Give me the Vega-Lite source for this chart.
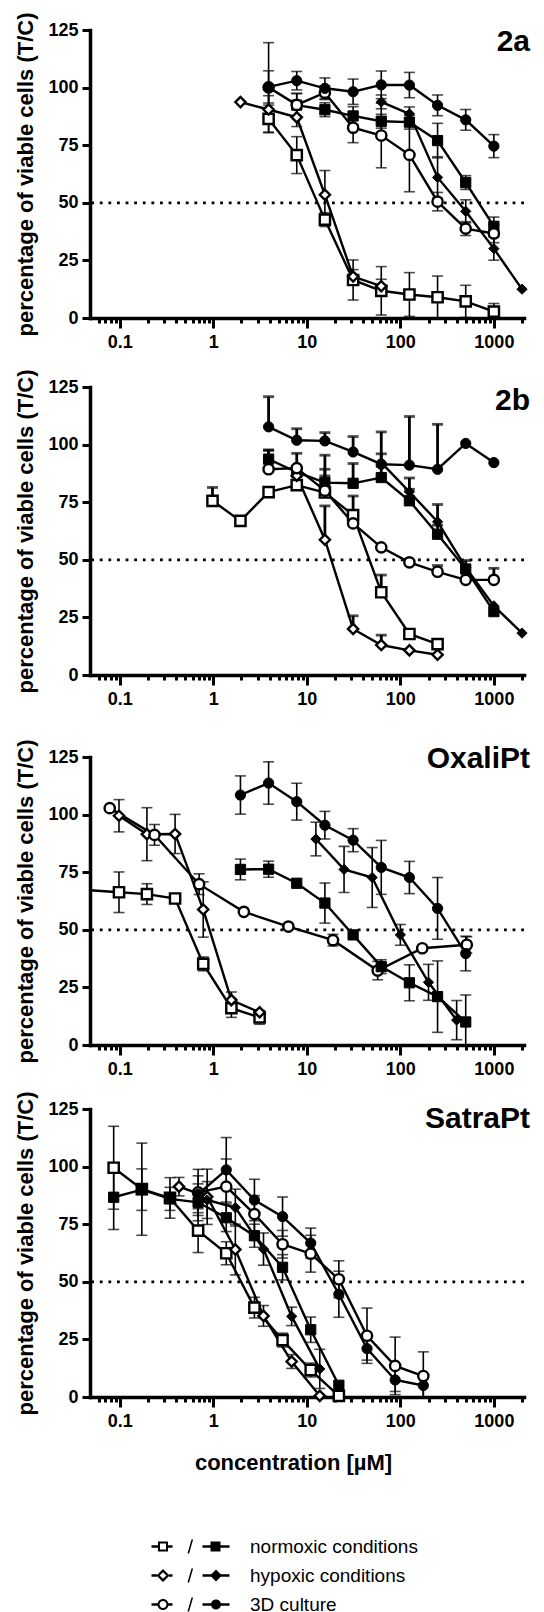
{
"$schema": "https://vega.github.io/schema/vega-lite/v6.json",
"padding": {"left": 14, "top": 12, "right": 0, "bottom": 0},
"config": {
  "font": "Liberation Sans",
  "view": {"stroke": null},
  "axis": {"domainColor": "black", "domainWidth": 3.5, "domainCap": "square", "tickColor": "black", "tickWidth": 3, "labelColor": "black", "labelFont": "Liberation Sans", "labelFontWeight": "bold", "labelFontSize": 18, "titleColor": "black", "titleFont": "Liberation Sans", "titleFontWeight": "bold", "titleFontSize": 22, "grid": false},
  "title": {"font": "Liberation Sans", "fontWeight": "bold", "fontSize": 30, "color": "black", "anchor": "end", "frame": "group", "offset": -35, "baseline": "alphabetic", "dx": 6}
},
"datasets": {
"a": [
{"k":"N","f":"o","c":3.9,"v":86.4,"lo":80.4,"hi":92.4},
{"k":"N","f":"o","c":7.8,"v":70.7,"lo":62.7,"hi":78.7},
{"k":"N","f":"o","c":15.6,"v":42.7,"lo":39.7,"hi":45.7},
{"k":"N","f":"o","c":31.25,"v":16.5,"lo":7.8,"hi":25.2},
{"k":"N","f":"o","c":62.5,"v":11.8,"lo":1.3,"hi":22.3},
{"k":"N","f":"o","c":125,"v":10.2,"lo":0.7,"hi":19.7},
{"k":"N","f":"o","c":250,"v":9,"lo":0,"hi":18.2},
{"k":"N","f":"o","c":500,"v":7.2,"lo":0.2,"hi":14.2},
{"k":"N","f":"o","c":1000,"v":2.8,"lo":0,"hi":6.3},
{"k":"N","f":"f","c":7.8,"v":92.4,"lo":87.4,"hi":97.4},
{"k":"N","f":"f","c":15.6,"v":90.4,"lo":87.4,"hi":93.4},
{"k":"N","f":"f","c":31.25,"v":87.7,"lo":83.7,"hi":91.7},
{"k":"N","f":"f","c":62.5,"v":85.4,"lo":82.4,"hi":88.4},
{"k":"N","f":"f","c":125,"v":85,"lo":82,"hi":88},
{"k":"N","f":"f","c":250,"v":77,"lo":69.5,"hi":84.5},
{"k":"N","f":"f","c":500,"v":58.8,"lo":55.8,"hi":61.8},
{"k":"N","f":"f","c":1000,"v":39.8,"lo":35.8,"hi":43.8},
{"k":"H","f":"o","c":1.95,"v":93.7,"lo":93.7,"hi":93.7},
{"k":"H","f":"o","c":3.9,"v":90.5,"lo":84.5,"hi":96.5},
{"k":"H","f":"o","c":7.8,"v":87.1,"lo":83.1,"hi":91.1},
{"k":"H","f":"o","c":15.6,"v":53.5,"lo":43,"hi":64},
{"k":"H","f":"o","c":31.25,"v":18,"lo":15,"hi":21},
{"k":"H","f":"o","c":62.5,"v":13.8,"lo":10.8,"hi":16.8},
{"k":"H","f":"f","c":62.5,"v":93.8,"lo":90.8,"hi":96.8},
{"k":"H","f":"f","c":125,"v":88.6,"lo":85.6,"hi":91.6},
{"k":"H","f":"f","c":250,"v":61,"lo":52,"hi":70},
{"k":"H","f":"f","c":500,"v":46.3,"lo":41.3,"hi":51.3},
{"k":"H","f":"f","c":1000,"v":30.1,"lo":25.1,"hi":35.1},
{"k":"H","f":"f","c":2000,"v":12.5,"lo":12.5,"hi":12.5},
{"k":"D","f":"o","c":3.9,"v":100.1,"lo":80.7,"hi":119.5},
{"k":"D","f":"o","c":7.8,"v":92.5,"lo":87.5,"hi":97.5},
{"k":"D","f":"o","c":15.6,"v":97.8,"lo":94.8,"hi":100.8},
{"k":"D","f":"o","c":31.25,"v":82.6,"lo":76.1,"hi":89.1},
{"k":"D","f":"o","c":62.5,"v":79.2,"lo":65.2,"hi":93.2},
{"k":"D","f":"o","c":125,"v":70.8,"lo":54.8,"hi":86.8},
{"k":"D","f":"o","c":250,"v":50.5,"lo":46.5,"hi":54.5},
{"k":"D","f":"o","c":500,"v":38.8,"lo":35.8,"hi":41.8},
{"k":"D","f":"o","c":1000,"v":36.7,"lo":32.7,"hi":40.7},
{"k":"D","f":"f","c":3.9,"v":100.3,"lo":93.3,"hi":107.3},
{"k":"D","f":"f","c":7.8,"v":103,"lo":99,"hi":107},
{"k":"D","f":"f","c":15.6,"v":99.7,"lo":95.2,"hi":104.2},
{"k":"D","f":"f","c":31.25,"v":98.2,"lo":92.7,"hi":103.7},
{"k":"D","f":"f","c":62.5,"v":101.2,"lo":95.2,"hi":107.2},
{"k":"D","f":"f","c":125,"v":101.1,"lo":95.6,"hi":106.6},
{"k":"D","f":"f","c":250,"v":92.3,"lo":87.8,"hi":96.8},
{"k":"D","f":"f","c":500,"v":86,"lo":81.5,"hi":90.5},
{"k":"D","f":"f","c":1000,"v":74.6,"lo":69.6,"hi":79.6}
],
"b": [
{"k":"N","f":"o","c":0.98,"v":75.6,"lo":75.6,"hi":81.4},
{"k":"N","f":"o","c":1.95,"v":66.9,"lo":66.9,"hi":66.9},
{"k":"N","f":"o","c":3.9,"v":79.4,"lo":79.4,"hi":79.4},
{"k":"N","f":"o","c":7.8,"v":82.4,"lo":82.4,"hi":82.4},
{"k":"N","f":"o","c":15.6,"v":79.2,"lo":79.2,"hi":86.4},
{"k":"N","f":"o","c":31.25,"v":69.4,"lo":69.4,"hi":77.7},
{"k":"N","f":"o","c":62.5,"v":35.9,"lo":35.9,"hi":43.4},
{"k":"N","f":"o","c":125,"v":17.8,"lo":17.8,"hi":17.8},
{"k":"N","f":"o","c":250,"v":13.4,"lo":13.4,"hi":13.4},
{"k":"N","f":"f","c":3.9,"v":93.7,"lo":93.7,"hi":97.7},
{"k":"N","f":"f","c":7.8,"v":88,"lo":88,"hi":96.2},
{"k":"N","f":"f","c":15.6,"v":83.5,"lo":83.5,"hi":95.4},
{"k":"N","f":"f","c":31.25,"v":83.2,"lo":83.2,"hi":91.8},
{"k":"N","f":"f","c":62.5,"v":85.7,"lo":85.7,"hi":90.5},
{"k":"N","f":"f","c":125,"v":75.6,"lo":75.6,"hi":80.6},
{"k":"N","f":"f","c":250,"v":61.1,"lo":61.1,"hi":65},
{"k":"N","f":"f","c":500,"v":46,"lo":46,"hi":46},
{"k":"N","f":"f","c":1000,"v":27.5,"lo":27.5,"hi":27.5},
{"k":"H","f":"o","c":7.8,"v":86.5,"lo":86.5,"hi":86.5},
{"k":"H","f":"o","c":15.6,"v":58.7,"lo":58.7,"hi":73.4},
{"k":"H","f":"o","c":31.25,"v":20,"lo":20,"hi":25.7},
{"k":"H","f":"o","c":62.5,"v":13,"lo":13,"hi":17.3},
{"k":"H","f":"o","c":125,"v":10.7,"lo":10.7,"hi":10.7},
{"k":"H","f":"o","c":250,"v":8.8,"lo":8.8,"hi":8.8},
{"k":"H","f":"f","c":62.5,"v":92.2,"lo":92.2,"hi":96},
{"k":"H","f":"f","c":125,"v":79.5,"lo":79.5,"hi":85.5},
{"k":"H","f":"f","c":250,"v":66.5,"lo":66.5,"hi":74},
{"k":"H","f":"f","c":500,"v":46.7,"lo":46.7,"hi":49.7},
{"k":"H","f":"f","c":1000,"v":30,"lo":30,"hi":30},
{"k":"H","f":"f","c":2000,"v":18.2,"lo":18.2,"hi":18.2},
{"k":"D","f":"o","c":3.9,"v":89.3,"lo":89.3,"hi":97.5},
{"k":"D","f":"o","c":7.8,"v":89.8,"lo":89.8,"hi":89.8},
{"k":"D","f":"o","c":15.6,"v":80,"lo":80,"hi":89.3},
{"k":"D","f":"o","c":31.25,"v":65.8,"lo":65.8,"hi":65.8},
{"k":"D","f":"o","c":62.5,"v":55.4,"lo":55.4,"hi":55.4},
{"k":"D","f":"o","c":125,"v":48.9,"lo":48.9,"hi":48.9},
{"k":"D","f":"o","c":250,"v":44.8,"lo":44.8,"hi":47.5},
{"k":"D","f":"o","c":500,"v":41.3,"lo":41.3,"hi":41.3},
{"k":"D","f":"o","c":1000,"v":41.3,"lo":41.3,"hi":46.3},
{"k":"D","f":"f","c":3.9,"v":107.7,"lo":107.7,"hi":120.8},
{"k":"D","f":"f","c":7.8,"v":101.9,"lo":101.9,"hi":106.9},
{"k":"D","f":"f","c":15.6,"v":101.6,"lo":101.6,"hi":105.2},
{"k":"D","f":"f","c":31.25,"v":96.8,"lo":96.8,"hi":103.5},
{"k":"D","f":"f","c":62.5,"v":91.5,"lo":91.5,"hi":105.5},
{"k":"D","f":"f","c":125,"v":91.1,"lo":91.1,"hi":112.2},
{"k":"D","f":"f","c":250,"v":89.3,"lo":89.3,"hi":108.8},
{"k":"D","f":"f","c":500,"v":100.5,"lo":100.5,"hi":100.5},
{"k":"D","f":"f","c":1000,"v":92.2,"lo":92.2,"hi":92.2}
],
"ox": [
{"k":"N","f":"o","c":0.0244,"v":68,"lo":68,"hi":68},
{"k":"N","f":"o","c":0.098,"v":66.3,"lo":57.5,"hi":75.1},
{"k":"N","f":"o","c":0.195,"v":65.5,"lo":61,"hi":70},
{"k":"N","f":"o","c":0.39,"v":63.6,"lo":63.6,"hi":63.6},
{"k":"N","f":"o","c":0.78,"v":35.2,"lo":32.2,"hi":38.2},
{"k":"N","f":"o","c":1.56,"v":16,"lo":12,"hi":20},
{"k":"N","f":"o","c":3.125,"v":12,"lo":9,"hi":15},
{"k":"H","f":"o","c":0.098,"v":99.5,"lo":92.5,"hi":106.5},
{"k":"H","f":"o","c":0.195,"v":91.5,"lo":80,"hi":103},
{"k":"H","f":"o","c":0.39,"v":91.6,"lo":83.1,"hi":100.1},
{"k":"H","f":"o","c":0.78,"v":58.8,"lo":46.8,"hi":70.8},
{"k":"H","f":"o","c":1.56,"v":19.5,"lo":16,"hi":23},
{"k":"H","f":"o","c":3.125,"v":14.2,"lo":14.2,"hi":14.2},
{"k":"D","f":"o","c":0.078,"v":102.8,"lo":102.8,"hi":102.8},
{"k":"D","f":"o","c":0.235,"v":91.2,"lo":86.7,"hi":95.7},
{"k":"D","f":"o","c":0.705,"v":69.8,"lo":65.3,"hi":74.3},
{"k":"D","f":"o","c":2.12,"v":57.8,"lo":57.8,"hi":57.8},
{"k":"D","f":"o","c":6.35,"v":51.4,"lo":51.4,"hi":51.4},
{"k":"D","f":"o","c":19.05,"v":45.5,"lo":43,"hi":48},
{"k":"D","f":"o","c":57.2,"v":32.3,"lo":28.3,"hi":36.3},
{"k":"D","f":"o","c":171.5,"v":42,"lo":42,"hi":42},
{"k":"D","f":"o","c":514,"v":43.5,"lo":40,"hi":47},
{"k":"N","f":"f","c":1.95,"v":76.2,"lo":71.7,"hi":80.7},
{"k":"N","f":"f","c":3.9,"v":76.3,"lo":72.8,"hi":79.8},
{"k":"N","f":"f","c":7.8,"v":70.2,"lo":70.2,"hi":70.2},
{"k":"N","f":"f","c":15.6,"v":61.6,"lo":52.9,"hi":70.3},
{"k":"N","f":"f","c":31.25,"v":47.8,"lo":47.8,"hi":47.8},
{"k":"N","f":"f","c":62.5,"v":34,"lo":31,"hi":37},
{"k":"N","f":"f","c":125,"v":27,"lo":19.2,"hi":34.8},
{"k":"N","f":"f","c":250,"v":21,"lo":5.5,"hi":36.5},
{"k":"N","f":"f","c":500,"v":10,"lo":0,"hi":21.7},
{"k":"H","f":"f","c":12.5,"v":89.4,"lo":82.1,"hi":96.7},
{"k":"H","f":"f","c":25,"v":76.2,"lo":66.2,"hi":86.2},
{"k":"H","f":"f","c":50,"v":72.7,"lo":59.7,"hi":85.7},
{"k":"H","f":"f","c":100,"v":47.8,"lo":43.3,"hi":52.3},
{"k":"H","f":"f","c":200,"v":27.2,"lo":19.4,"hi":35},
{"k":"H","f":"f","c":400,"v":10.8,"lo":2.3,"hi":19.3},
{"k":"D","f":"f","c":1.95,"v":108.5,"lo":100.2,"hi":116.8},
{"k":"D","f":"f","c":3.9,"v":113.7,"lo":104.5,"hi":122.9},
{"k":"D","f":"f","c":7.8,"v":105.6,"lo":97.6,"hi":113.6},
{"k":"D","f":"f","c":15.6,"v":95.4,"lo":89.4,"hi":101.4},
{"k":"D","f":"f","c":31.25,"v":88.9,"lo":83.9,"hi":93.9},
{"k":"D","f":"f","c":62.5,"v":77.1,"lo":65.4,"hi":88.8},
{"k":"D","f":"f","c":125,"v":72.7,"lo":65.7,"hi":79.7},
{"k":"D","f":"f","c":250,"v":59.3,"lo":45.9,"hi":72.7},
{"k":"D","f":"f","c":500,"v":39.7,"lo":32.2,"hi":47.2}
],
"sa": [
{"k":"N","f":"o","c":0.086,"v":99.5,"lo":81.5,"hi":117.5},
{"k":"N","f":"o","c":0.172,"v":90.2,"lo":70.2,"hi":110.2},
{"k":"N","f":"o","c":0.344,"v":86.4,"lo":77.6,"hi":95.2},
{"k":"N","f":"o","c":0.6875,"v":72.2,"lo":62.7,"hi":81.7},
{"k":"N","f":"o","c":1.375,"v":62.4,"lo":57.4,"hi":67.4},
{"k":"N","f":"o","c":2.75,"v":38.8,"lo":34.3,"hi":43.3},
{"k":"N","f":"o","c":5.5,"v":24.7,"lo":21.7,"hi":27.7},
{"k":"N","f":"o","c":11,"v":11.7,"lo":8.7,"hi":14.7},
{"k":"N","f":"o","c":22,"v":0.5,"lo":0.5,"hi":0.5},
{"k":"N","f":"f","c":0.086,"v":86.7,"lo":72.7,"hi":100.7},
{"k":"N","f":"f","c":0.172,"v":90,"lo":81,"hi":99},
{"k":"N","f":"f","c":0.344,"v":86,"lo":81,"hi":91},
{"k":"N","f":"f","c":0.6875,"v":84.5,"lo":76.5,"hi":92.5},
{"k":"N","f":"f","c":1.375,"v":77.8,"lo":71.8,"hi":83.8},
{"k":"N","f":"f","c":2.75,"v":70,"lo":65,"hi":75},
{"k":"N","f":"f","c":5.5,"v":56.3,"lo":50.8,"hi":61.8},
{"k":"N","f":"f","c":11,"v":29.2,"lo":23.7,"hi":34.7},
{"k":"N","f":"f","c":22,"v":5.1,"lo":5.1,"hi":5.1},
{"k":"H","f":"o","c":0.43,"v":91.3,"lo":87.3,"hi":95.3},
{"k":"H","f":"o","c":0.86,"v":86.9,"lo":74.9,"hi":98.9},
{"k":"H","f":"o","c":1.72,"v":64,"lo":53,"hi":75},
{"k":"H","f":"o","c":3.44,"v":35.2,"lo":30.7,"hi":39.7},
{"k":"H","f":"o","c":6.88,"v":15.4,"lo":12.4,"hi":18.4},
{"k":"H","f":"o","c":13.75,"v":0.5,"lo":0.5,"hi":0.5},
{"k":"H","f":"f","c":0.86,"v":85.5,"lo":77.5,"hi":93.5},
{"k":"H","f":"f","c":1.72,"v":82.2,"lo":74.2,"hi":90.2},
{"k":"H","f":"f","c":3.44,"v":64.2,"lo":57.2,"hi":71.2},
{"k":"H","f":"f","c":6.88,"v":35,"lo":31,"hi":39},
{"k":"H","f":"f","c":13.75,"v":12.2,"lo":3.7,"hi":20.7},
{"k":"D","f":"o","c":0.6875,"v":88.8,"lo":78.8,"hi":98.8},
{"k":"D","f":"o","c":1.375,"v":91.3,"lo":79.3,"hi":103.3},
{"k":"D","f":"o","c":2.75,"v":79.4,"lo":71.4,"hi":87.4},
{"k":"D","f":"o","c":5.5,"v":66.3,"lo":60.3,"hi":72.3},
{"k":"D","f":"o","c":11,"v":62.2,"lo":54.2,"hi":70.2},
{"k":"D","f":"o","c":22,"v":51.1,"lo":43.1,"hi":59.1},
{"k":"D","f":"o","c":44,"v":26.6,"lo":14.6,"hi":38.6},
{"k":"D","f":"o","c":88,"v":13.5,"lo":1,"hi":26},
{"k":"D","f":"o","c":176,"v":9.1,"lo":0,"hi":19.6},
{"k":"D","f":"f","c":0.6875,"v":88,"lo":80,"hi":96},
{"k":"D","f":"f","c":1.375,"v":98.6,"lo":84.6,"hi":112.6},
{"k":"D","f":"f","c":2.75,"v":85.5,"lo":76.5,"hi":94.5},
{"k":"D","f":"f","c":5.5,"v":78.3,"lo":69.8,"hi":86.8},
{"k":"D","f":"f","c":11,"v":66.8,"lo":60.3,"hi":73.3},
{"k":"D","f":"f","c":22,"v":44.6,"lo":34.6,"hi":54.6},
{"k":"D","f":"f","c":44,"v":21,"lo":16,"hi":26},
{"k":"D","f":"f","c":88,"v":7.4,"lo":2.4,"hi":12.4},
{"k":"D","f":"f","c":176,"v":5,"lo":0,"hi":10}
]
},
"bounds": "full",
"spacing": 31,
"vconcat": [
{"bounds": "flush", "spacing": 69, "vconcat": [
{
 "width": 434, "height": 288, "title": {"text": "2a", "offset": -45},
 "data": {"name": "a"},
 "layer": [
  {"data": {"values": [{}]}, "mark": {"type": "rule", "strokeDash": [2.8, 5.8], "strokeWidth": 2.8, "color": "black"},
   "encoding": {"y": {"datum": 50, "type": "quantitative", "scale": {"domain": [0, 125], "nice": false, "zero": false},
     "axis": {"values": [0,12.5,25,37.5,50,62.5,75,87.5,100,112.5,125], "labelExpr": "datum.value % 25 === 0 ? datum.label : ''", "tickSize": {"condition": {"test": "datum.value % 25 === 0", "value": 8}, "value": 4}, "title": "percentage of viable cells (T/C)", "titlePadding": 10, "labelPadding": 4, "labelOverlap": false}}}},
  {"mark": {"type": "rule", "strokeWidth": 1.6, "color": "black"},
   "encoding": {"x": {"field": "c", "type": "quantitative", "scale": {"type": "log", "domain": [0.048, 2100], "nice": false},
     "axis": {"values": [0.06,0.07,0.08,0.09,0.1,0.2,0.3,0.4,0.5,0.6,0.7,0.8,0.9,1,2,3,4,5,6,7,8,9,10,20,30,40,50,60,70,80,90,100,200,300,400,500,600,700,800,900,1000,2000], "labelExpr": "indexof([0.1,1,10,100,1000], datum.value) >= 0 ? format(datum.value, '~g') : ''", "tickSize": {"condition": {"test": "indexof([0.1,1,10,100,1000], datum.value) >= 0", "value": 10}, "value": 5}, "labelFlush": false, "labelOverlap": false, "labelPadding": 5, "title": null}},
    "y": {"field": "lo", "type": "quantitative", "scale": {"domain": [0, 125], "nice": false, "zero": false}}, "y2": {"field": "hi"}}},
  {"transform": [{"filter": "datum.hi > datum.v"}], "mark": {"type": "tick", "orient": "horizontal", "size": 11, "thickness": 1.6, "color": "black"},
   "encoding": {"x": {"field": "c", "type": "quantitative", "scale": {"type": "log", "domain": [0.048, 2100], "nice": false}}, "y": {"field": "hi", "type": "quantitative", "scale": {"domain": [0, 125], "nice": false, "zero": false}}}},
  {"transform": [{"filter": "datum.lo < datum.v"}], "mark": {"type": "tick", "orient": "horizontal", "size": 11, "thickness": 1.6, "color": "black"},
   "encoding": {"x": {"field": "c", "type": "quantitative", "scale": {"type": "log", "domain": [0.048, 2100], "nice": false}}, "y": {"field": "lo", "type": "quantitative", "scale": {"domain": [0, 125], "nice": false, "zero": false}}}},
  {"mark": {"type": "line", "strokeWidth": 2.4, "color": "black"},
   "encoding": {"x": {"field": "c", "type": "quantitative", "scale": {"type": "log", "domain": [0.048, 2100], "nice": false}}, "y": {"field": "v", "type": "quantitative", "scale": {"domain": [0, 125], "nice": false, "zero": false}}, "detail": [{"field": "k"}, {"field": "f"}]}},
  {"mark": {"type": "point", "size": 105, "stroke": "black", "opacity": 1, "fillOpacity": 1},
   "encoding": {"x": {"field": "c", "type": "quantitative", "scale": {"type": "log", "domain": [0.048, 2100], "nice": false}}, "y": {"field": "v", "type": "quantitative", "scale": {"domain": [0, 125], "nice": false, "zero": false}},
    "strokeWidth": {"condition": {"test": "datum.f === 'o'", "value": 2.4}, "value": 1},
    "shape": {"condition": [{"test": "datum.k === 'N'", "value": "square"}, {"test": "datum.k === 'H'", "value": "diamond"}], "value": "circle"},
    "fill": {"field": "f", "type": "nominal", "scale": {"domain": ["o", "f"], "range": ["white", "black"]}, "legend": null}}},
  {"mark": {"type": "point", "filled": true, "color": "black", "opacity": 0},
   "encoding": {"x": {"field": "c", "type": "quantitative", "scale": {"type": "log", "domain": [0.048, 2100], "nice": false}}, "y": {"field": "v", "type": "quantitative", "scale": {"domain": [0, 125], "nice": false, "zero": false}},
    "shape": {"field": "k", "type": "nominal",
      "scale": {"domain": ["N", "H", "D"], "range": [
        "M0,-1.25L6.5,-1.25L6.5,1.25L0,1.25Z M6.5,-5L16.5,-5L16.5,5L6.5,5Z M8.5,-3L8.5,3L14.5,3L14.5,-3Z M16.5,-1.25L21,-1.25L21,1.25L16.5,1.25Z M36,7L37.6,7L41.6,-7L40,-7Z M51,-1.25L59,-1.25L59,1.25L51,1.25Z M59,-5L69,-5L69,5L59,5Z M69,-1.25L78,-1.25L78,1.25L69,1.25Z",
        "M0,-1.25L5.5,-1.25L5.5,1.25L0,1.25Z M5,0L11.5,-6.5L18,0L11.5,6.5Z M8.2,0L11.5,3.3L14.8,0L11.5,-3.3Z M17.5,-1.25L21,-1.25L21,1.25L17.5,1.25Z M36,7L37.6,7L41.6,-7L40,-7Z M51,-1.25L59.5,-1.25L59.5,1.25L51,1.25Z M58.5,0L64.5,-6L70.5,0L64.5,6Z M69.5,-1.25L78,-1.25L78,1.25L69.5,1.25Z",
        "M0,-1.25L6.5,-1.25L6.5,1.25L0,1.25Z M6,0A5.5,5.5,0,1,1,17,0A5.5,5.5,0,1,1,6,0Z M8,0A3.5,3.5,0,1,0,15,0A3.5,3.5,0,1,0,8,0Z M16.5,-1.25L21,-1.25L21,1.25L16.5,1.25Z M36,7L37.6,7L41.6,-7L40,-7Z M51,-1.25L60,-1.25L60,1.25L51,1.25Z M59.5,0A5,5,0,1,1,69.5,0A5,5,0,1,1,59.5,0Z M69,-1.25L78,-1.25L78,1.25L69,1.25Z"]},
      "legend": {"orient": "none", "legendX": 52, "legendY": 1507, "title": null, "direction": "vertical", "padding": 0, "symbolSize": 4, "symbolStrokeWidth": 0, "symbolOpacity": 1, "symbolFillColor": "black", "labelOffset": 89, "labelLimit": 400, "labelFont": "Liberation Sans", "labelFontSize": 19, "labelFontWeight": "normal", "labelColor": "black", "rowPadding": 9,
       "labelExpr": "datum.value === 'N' ? 'normoxic conditions' : datum.value === 'H' ? 'hypoxic conditions' : '3D culture'"}}}}
 ]
},
{
 "width": 434, "height": 288, "title": {"text": "2b", "offset": -47},
 "data": {"name": "b"},
 "layer": [
  {"data": {"values": [{}]}, "mark": {"type": "rule", "strokeDash": [2.8, 5.8], "strokeWidth": 2.8, "color": "black"},
   "encoding": {"y": {"datum": 50, "type": "quantitative", "scale": {"domain": [0, 125], "nice": false, "zero": false},
     "axis": {"values": [0,12.5,25,37.5,50,62.5,75,87.5,100,112.5,125], "labelExpr": "datum.value % 25 === 0 ? datum.label : ''", "tickSize": {"condition": {"test": "datum.value % 25 === 0", "value": 8}, "value": 4}, "title": "percentage of viable cells (T/C)", "titlePadding": 10, "labelPadding": 4, "labelOverlap": false}}}},
  {"mark": {"type": "rule", "strokeWidth": 2.8, "color": "black"},
   "encoding": {"x": {"field": "c", "type": "quantitative", "scale": {"type": "log", "domain": [0.048, 2100], "nice": false},
     "axis": {"values": [0.06,0.07,0.08,0.09,0.1,0.2,0.3,0.4,0.5,0.6,0.7,0.8,0.9,1,2,3,4,5,6,7,8,9,10,20,30,40,50,60,70,80,90,100,200,300,400,500,600,700,800,900,1000,2000], "labelExpr": "indexof([0.1,1,10,100,1000], datum.value) >= 0 ? format(datum.value, '~g') : ''", "tickSize": {"condition": {"test": "indexof([0.1,1,10,100,1000], datum.value) >= 0", "value": 10}, "value": 5}, "labelFlush": false, "labelOverlap": false, "labelPadding": 5, "title": null}},
    "y": {"field": "lo", "type": "quantitative", "scale": {"domain": [0, 125], "nice": false, "zero": false}}, "y2": {"field": "hi"}}},
  {"transform": [{"filter": "datum.hi > datum.v"}], "mark": {"type": "tick", "orient": "horizontal", "size": 11, "thickness": 2.8, "color": "black"},
   "encoding": {"x": {"field": "c", "type": "quantitative", "scale": {"type": "log", "domain": [0.048, 2100], "nice": false}}, "y": {"field": "hi", "type": "quantitative", "scale": {"domain": [0, 125], "nice": false, "zero": false}}}},
  {"mark": {"type": "line", "strokeWidth": 2.4, "color": "black"},
   "encoding": {"x": {"field": "c", "type": "quantitative", "scale": {"type": "log", "domain": [0.048, 2100], "nice": false}}, "y": {"field": "v", "type": "quantitative", "scale": {"domain": [0, 125], "nice": false, "zero": false}}, "detail": [{"field": "k"}, {"field": "f"}]}},
  {"mark": {"type": "point", "size": 105, "stroke": "black", "opacity": 1, "fillOpacity": 1},
   "encoding": {"x": {"field": "c", "type": "quantitative", "scale": {"type": "log", "domain": [0.048, 2100], "nice": false}}, "y": {"field": "v", "type": "quantitative", "scale": {"domain": [0, 125], "nice": false, "zero": false}},
    "strokeWidth": {"condition": {"test": "datum.f === 'o'", "value": 2.4}, "value": 1},
    "shape": {"condition": [{"test": "datum.k === 'N'", "value": "square"}, {"test": "datum.k === 'H'", "value": "diamond"}], "value": "circle"},
    "fill": {"field": "f", "type": "nominal", "scale": {"domain": ["o", "f"], "range": ["white", "black"]}, "legend": null}}}
 ]
}
]},
{"bounds": "flush", "spacing": 64, "vconcat": [
{
 "width": 434, "height": 288, "title": {"text": "OxaliPt", "offset": -35},
 "data": {"name": "ox"},
 "layer": [
  {"data": {"values": [{}]}, "mark": {"type": "rule", "strokeDash": [2.8, 5.8], "strokeWidth": 2.8, "color": "black"},
   "encoding": {"y": {"datum": 50, "type": "quantitative", "scale": {"domain": [0, 125], "nice": false, "zero": false},
     "axis": {"values": [0,12.5,25,37.5,50,62.5,75,87.5,100,112.5,125], "labelExpr": "datum.value % 25 === 0 ? datum.label : ''", "tickSize": {"condition": {"test": "datum.value % 25 === 0", "value": 8}, "value": 4}, "title": "percentage of viable cells (T/C)", "titlePadding": 10, "labelPadding": 4, "labelOverlap": false}}}},
  {"transform": [{"filter": "datum.c > 0.04"}], "mark": {"type": "rule", "strokeWidth": 1.6, "color": "black"},
   "encoding": {"x": {"field": "c", "type": "quantitative", "scale": {"type": "log", "domain": [0.048, 2100], "nice": false},
     "axis": {"values": [0.06,0.07,0.08,0.09,0.1,0.2,0.3,0.4,0.5,0.6,0.7,0.8,0.9,1,2,3,4,5,6,7,8,9,10,20,30,40,50,60,70,80,90,100,200,300,400,500,600,700,800,900,1000,2000], "labelExpr": "indexof([0.1,1,10,100,1000], datum.value) >= 0 ? format(datum.value, '~g') : ''", "tickSize": {"condition": {"test": "indexof([0.1,1,10,100,1000], datum.value) >= 0", "value": 10}, "value": 5}, "labelFlush": false, "labelOverlap": false, "labelPadding": 5, "title": null}},
    "y": {"field": "lo", "type": "quantitative", "scale": {"domain": [0, 125], "nice": false, "zero": false}}, "y2": {"field": "hi"}}},
  {"transform": [{"filter": "datum.hi > datum.v"}], "mark": {"type": "tick", "orient": "horizontal", "size": 11, "thickness": 1.6, "color": "black"},
   "encoding": {"x": {"field": "c", "type": "quantitative", "scale": {"type": "log", "domain": [0.048, 2100], "nice": false}}, "y": {"field": "hi", "type": "quantitative", "scale": {"domain": [0, 125], "nice": false, "zero": false}}}},
  {"transform": [{"filter": "datum.lo < datum.v"}], "mark": {"type": "tick", "orient": "horizontal", "size": 11, "thickness": 1.6, "color": "black"},
   "encoding": {"x": {"field": "c", "type": "quantitative", "scale": {"type": "log", "domain": [0.048, 2100], "nice": false}}, "y": {"field": "lo", "type": "quantitative", "scale": {"domain": [0, 125], "nice": false, "zero": false}}}},
  {"mark": {"type": "line", "strokeWidth": 2.4, "color": "black", "clip": true},
   "encoding": {"x": {"field": "c", "type": "quantitative", "scale": {"type": "log", "domain": [0.048, 2100], "nice": false}}, "y": {"field": "v", "type": "quantitative", "scale": {"domain": [0, 125], "nice": false, "zero": false}}, "detail": [{"field": "k"}, {"field": "f"}]}},
  {"transform": [{"filter": "datum.c > 0.04"}], "mark": {"type": "point", "size": 105, "stroke": "black", "opacity": 1, "fillOpacity": 1},
   "encoding": {"x": {"field": "c", "type": "quantitative", "scale": {"type": "log", "domain": [0.048, 2100], "nice": false}}, "y": {"field": "v", "type": "quantitative", "scale": {"domain": [0, 125], "nice": false, "zero": false}},
    "strokeWidth": {"condition": {"test": "datum.f === 'o'", "value": 2.4}, "value": 1},
    "shape": {"condition": [{"test": "datum.k === 'N'", "value": "square"}, {"test": "datum.k === 'H'", "value": "diamond"}], "value": "circle"},
    "fill": {"field": "f", "type": "nominal", "scale": {"domain": ["o", "f"], "range": ["white", "black"]}, "legend": null}}}
 ]
},
{
 "width": 434, "height": 288, "title": {"text": "SatraPt", "offset": -43},
 "data": {"name": "sa"},
 "layer": [
  {"data": {"values": [{}]}, "mark": {"type": "rule", "strokeDash": [2.8, 5.8], "strokeWidth": 2.8, "color": "black"},
   "encoding": {"y": {"datum": 50, "type": "quantitative", "scale": {"domain": [0, 125], "nice": false, "zero": false},
     "axis": {"values": [0,12.5,25,37.5,50,62.5,75,87.5,100,112.5,125], "labelExpr": "datum.value % 25 === 0 ? datum.label : ''", "tickSize": {"condition": {"test": "datum.value % 25 === 0", "value": 8}, "value": 4}, "title": "percentage of viable cells (T/C)", "titlePadding": 10, "labelPadding": 4, "labelOverlap": false}}}},
  {"mark": {"type": "rule", "strokeWidth": 1.6, "color": "black"},
   "encoding": {"x": {"field": "c", "type": "quantitative", "scale": {"type": "log", "domain": [0.048, 2100], "nice": false},
     "axis": {"values": [0.06,0.07,0.08,0.09,0.1,0.2,0.3,0.4,0.5,0.6,0.7,0.8,0.9,1,2,3,4,5,6,7,8,9,10,20,30,40,50,60,70,80,90,100,200,300,400,500,600,700,800,900,1000,2000], "labelExpr": "indexof([0.1,1,10,100,1000], datum.value) >= 0 ? format(datum.value, '~g') : ''", "tickSize": {"condition": {"test": "indexof([0.1,1,10,100,1000], datum.value) >= 0", "value": 10}, "value": 5}, "labelFlush": false, "labelOverlap": false, "labelPadding": 5, "title": "concentration [µM]", "titleFontSize": 22, "titlePadding": 22, "titleX": 203}},
    "y": {"field": "lo", "type": "quantitative", "scale": {"domain": [0, 125], "nice": false, "zero": false}}, "y2": {"field": "hi"}}},
  {"transform": [{"filter": "datum.hi > datum.v"}], "mark": {"type": "tick", "orient": "horizontal", "size": 11, "thickness": 1.6, "color": "black"},
   "encoding": {"x": {"field": "c", "type": "quantitative", "scale": {"type": "log", "domain": [0.048, 2100], "nice": false}}, "y": {"field": "hi", "type": "quantitative", "scale": {"domain": [0, 125], "nice": false, "zero": false}}}},
  {"transform": [{"filter": "datum.lo < datum.v"}], "mark": {"type": "tick", "orient": "horizontal", "size": 11, "thickness": 1.6, "color": "black"},
   "encoding": {"x": {"field": "c", "type": "quantitative", "scale": {"type": "log", "domain": [0.048, 2100], "nice": false}}, "y": {"field": "lo", "type": "quantitative", "scale": {"domain": [0, 125], "nice": false, "zero": false}}}},
  {"mark": {"type": "line", "strokeWidth": 2.4, "color": "black"},
   "encoding": {"x": {"field": "c", "type": "quantitative", "scale": {"type": "log", "domain": [0.048, 2100], "nice": false}}, "y": {"field": "v", "type": "quantitative", "scale": {"domain": [0, 125], "nice": false, "zero": false}}, "detail": [{"field": "k"}, {"field": "f"}]}},
  {"mark": {"type": "point", "size": 105, "stroke": "black", "opacity": 1, "fillOpacity": 1},
   "encoding": {"x": {"field": "c", "type": "quantitative", "scale": {"type": "log", "domain": [0.048, 2100], "nice": false}}, "y": {"field": "v", "type": "quantitative", "scale": {"domain": [0, 125], "nice": false, "zero": false}},
    "strokeWidth": {"condition": {"test": "datum.f === 'o'", "value": 2.4}, "value": 1},
    "shape": {"condition": [{"test": "datum.k === 'N'", "value": "square"}, {"test": "datum.k === 'H'", "value": "diamond"}], "value": "circle"},
    "fill": {"field": "f", "type": "nominal", "scale": {"domain": ["o", "f"], "range": ["white", "black"]}, "legend": null}}}
 ]
}
]}
]
}
